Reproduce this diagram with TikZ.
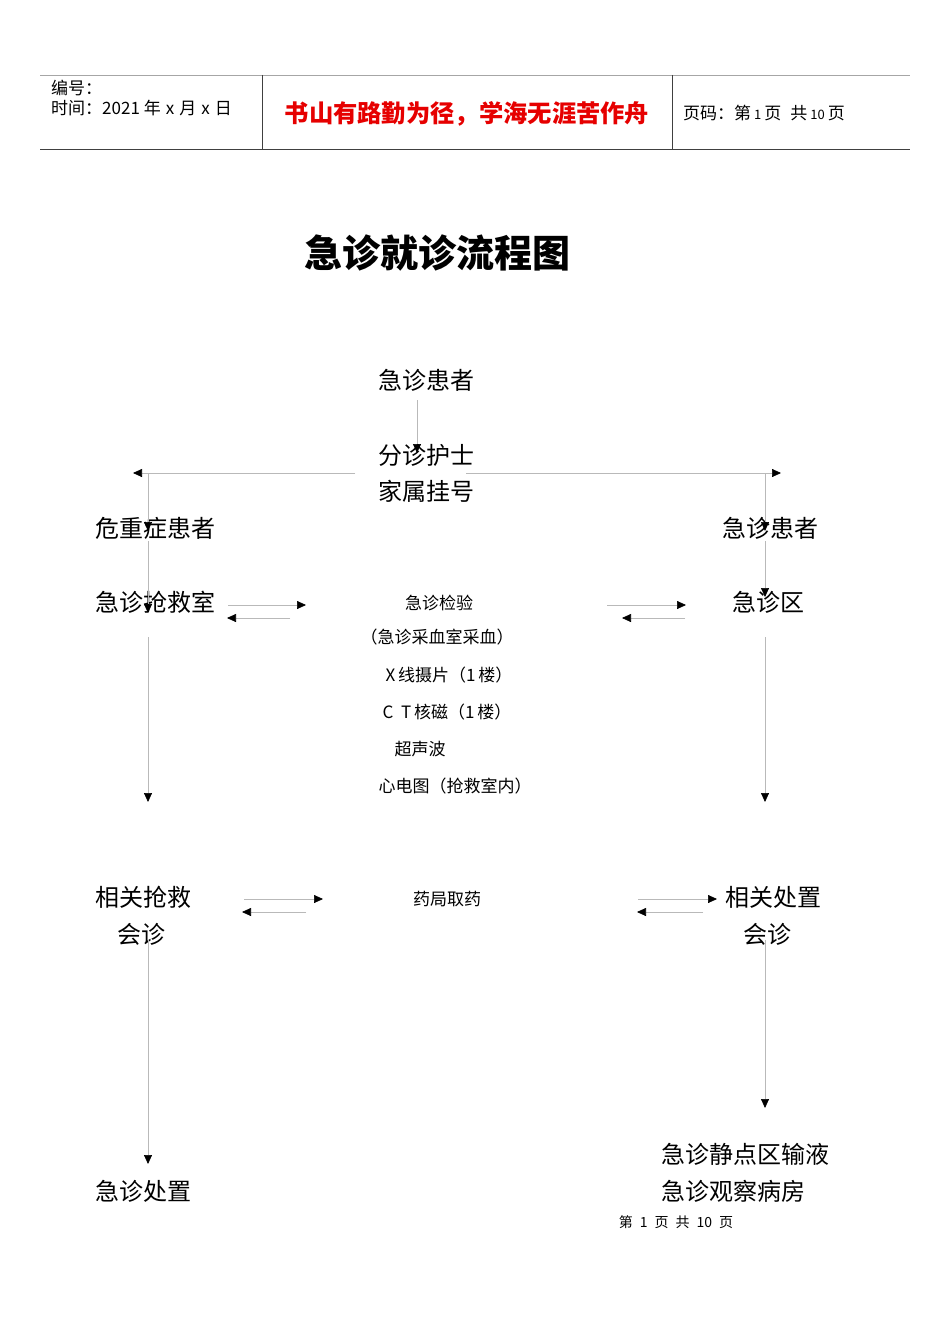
\documentclass[tikz,border=0pt]{standalone}
\usepackage{fontspec}
\setmainfont{Noto Sans CJK SC}
\usetikzlibrary{arrows.meta}
\begin{document}
\begin{tikzpicture}[x=1pt,y=-1pt,
  lbl/.style={inner sep=0pt, font=\fontsize{24}{24}\selectfont},
  sml/.style={inner sep=0pt, font=\fontsize{17}{17}\selectfont},
  hdr/.style={inner sep=0pt, anchor=west, font=\fontsize{17}{17}\selectfont},
  conn/.style={draw=gray!55, line width=0.7pt, -{Triangle[length=9pt,width=8pt,color=black]}},
  rule/.style={line width=0.8pt},
]
\useasboundingbox (0,0) rectangle (950,1319);
\fill[white] (0,0) rectangle (950,1319);

% header
\draw[rule,draw=gray!70] (40,75) -- (910,75);
\draw[rule,draw=black!75] (40,149) -- (910,149);
\draw[rule,draw=black!75] (262,75) -- (262,149);
\draw[rule,draw=black!75] (672,75) -- (672,149);
\node[hdr] (num) at (51,88) {编号：};
\node[hdr] (date) at (51,108) {时间：2021\hspace{4pt}年\hspace{5pt}x\hspace{5pt}月\hspace{5pt}x\hspace{5pt}日};
\node[inner sep=0pt, font=\fontsize{24.3}{24}\selectfont\bfseries, text={rgb,255:red,230;green,0;blue,0}] (motto) at (467,114) {书山有路勤为径，学海无涯苦作舟};
\node[hdr] (page) at (683,113) {页码：第\hspace{3pt}{\fontsize{13}{13}\selectfont 1}\hspace{3pt}页\hspace{9pt}共\hspace{3pt}{\fontsize{13}{13}\selectfont 10}\hspace{3pt}页};

% title
\node[inner sep=0pt, font=\fontsize{38}{38}\selectfont\bfseries] (title) at (437,253) {急诊就诊流程图};

% flow nodes
\node[lbl] (p0) at (426,380) {急诊患者};
\node[lbl] (triage) at (426,455) {分诊护士};
\node[lbl] (reg) at (426,491) {家属挂号};
\node[lbl,anchor=west] (crit) at (95,528) {危重症患者};
\node[lbl,anchor=west] (emp) at (722,528) {急诊患者};
\node[lbl,anchor=west] (rescue) at (95,602) {急诊抢救室};
\node[lbl,anchor=west] (area) at (732,602) {急诊区};

\node[sml] (lab) at (439,603) {急诊检验};
\node[sml] (blood) at (437,637) {（急诊采血室采血）};
\node[sml] (xray) at (449,675) {X\,线摄片（1\,楼）};
\node[sml] (ct) at (447,712) {C\ \ T\,核磁（1\,楼）};
\node[sml] (us) at (420,749) {超声波};
\node[sml] (ecg) at (455,786) {心电图（抢救室内）};

\node[lbl,anchor=west] (rel1) at (95,897) {相关抢救};
\node[lbl] (con1) at (141,934) {会诊};
\node[sml] (pharm) at (447,899) {药局取药};
\node[lbl,anchor=west] (rel2) at (725,897) {相关处置};
\node[lbl] (con2) at (767,934) {会诊};

\node[lbl,anchor=west] (treat) at (95,1191) {急诊处置};
\node[lbl,anchor=west] (iv) at (661,1154) {急诊静点区输液};
\node[lbl,anchor=west] (obs) at (661,1191) {急诊观察病房};

\node[inner sep=0pt, font=\fontsize{14}{14}\selectfont] (foot) at (676,1222) {第\hspace{7pt}1\hspace{7pt}页\hspace{7pt}共\hspace{7pt}10\hspace{7pt}页};

% connector coordinates
\coordinate (a1s) at (417,400); \coordinate (a1e) at (417,453);
\coordinate (hls) at (355,473); \coordinate (hle) at (133,473);
\coordinate (hrs) at (466,473); \coordinate (hre) at (781,473);
\coordinate (vl1s) at (148,473); \coordinate (vl1e) at (148,531);
\coordinate (vr1s) at (765,473); \coordinate (vr1e) at (765,531);
\coordinate (vl2s) at (148,541); \coordinate (vl2e) at (148,613);
\coordinate (vr2s) at (765,541); \coordinate (vr2e) at (765,597);
\coordinate (pl1s) at (228,605); \coordinate (pl1e) at (306,605);
\coordinate (pl2s) at (290,618); \coordinate (pl2e) at (227,618);
\coordinate (pr1s) at (607,605); \coordinate (pr1e) at (686,605);
\coordinate (pr2s) at (685,618); \coordinate (pr2e) at (622,618);
\coordinate (vl3s) at (148,637); \coordinate (vl3e) at (148,802);
\coordinate (vr3s) at (765,637); \coordinate (vr3e) at (765,802);
\coordinate (ql1s) at (244,899); \coordinate (ql1e) at (323,899);
\coordinate (ql2s) at (306,912); \coordinate (ql2e) at (242,912);
\coordinate (qr1s) at (638,899); \coordinate (qr1e) at (717,899);
\coordinate (qr2s) at (703,912); \coordinate (qr2e) at (637,912);
\coordinate (vl4s) at (148,940); \coordinate (vl4e) at (148,1164);
\coordinate (vr4s) at (765,940); \coordinate (vr4e) at (765,1108);

\draw[conn] (a1s) -- (a1e);
\draw[conn] (hls) -- (hle);
\draw[conn] (hrs) -- (hre);
\draw[conn] (vl1s) -- (vl1e);
\draw[conn] (vr1s) -- (vr1e);
\draw[conn] (vl2s) -- (vl2e);
\draw[conn] (vr2s) -- (vr2e);
\draw[conn] (pl1s) -- (pl1e);
\draw[conn] (pl2s) -- (pl2e);
\draw[conn] (pr1s) -- (pr1e);
\draw[conn] (pr2s) -- (pr2e);
\draw[conn] (vl3s) -- (vl3e);
\draw[conn] (vr3s) -- (vr3e);
\draw[conn] (ql1s) -- (ql1e);
\draw[conn] (ql2s) -- (ql2e);
\draw[conn] (qr1s) -- (qr1e);
\draw[conn] (qr2s) -- (qr2e);
\draw[conn] (vl4s) -- (vl4e);
\draw[conn] (vr4s) -- (vr4e);
\end{tikzpicture}
\end{document}
